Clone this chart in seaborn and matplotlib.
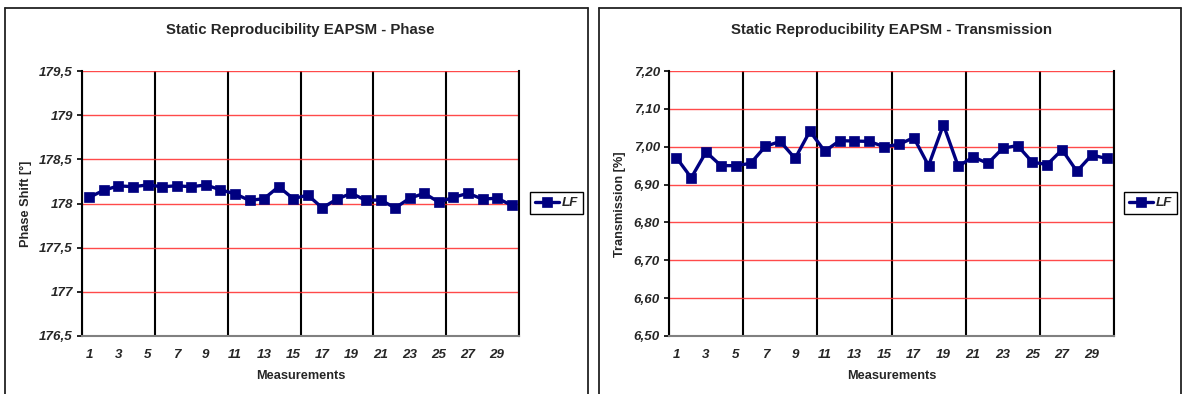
import numpy as np
import pandas as pd
import matplotlib
matplotlib.use("Agg")
import matplotlib.pyplot as plt
from matplotlib.lines import Line2D
from matplotlib.ticker import FuncFormatter
import seaborn as sns

# ---- data ----
measurements = list(range(1, 31))
phase = [178.07, 178.15, 178.20, 178.19, 178.21, 178.19, 178.20, 178.19, 178.21, 178.155,
         178.11, 178.035, 178.055, 178.19, 178.055, 178.095, 177.95, 178.05, 178.115, 178.035,
         178.04, 177.95, 178.06, 178.115, 178.015, 178.07, 178.115, 178.05, 178.06, 177.98]
transmission = [6.971, 6.918, 6.986, 6.950, 6.950, 6.956, 7.001, 7.014, 6.969, 7.041,
                6.988, 7.016, 7.015, 7.014, 7.000, 7.006, 7.024, 6.950, 7.058, 6.948,
                6.973, 6.956, 6.996, 7.003, 6.959, 6.953, 6.992, 6.935, 6.978, 6.969]
series_name = "LF"
titles = ["Static Reproducibility EAPSM - Phase", "Static Reproducibility EAPSM - Transmission"]
ylabels = ["Phase Shift [°]", "Transmission [%]"]
xlabel = "Measurements"
phase_ticks = [176.5, 177, 177.5, 178, 178.5, 179, 179.5]
trans_ticks = [6.50, 6.60, 6.70, 6.80, 6.90, 7.00, 7.10, 7.20]
xtick_labels = list(range(1, 31, 2))

sns.set_style("white")
plt.rcParams["font.family"] = ["Liberation Sans", "DejaVu Sans"]

W, H = 1182, 394
fig = plt.figure(figsize=(W / 100, H / 100), dpi=100)

def fx(px):
    return px / W

def fy(py):
    return 1 - py / H

navy = "#000080"

# panel frames
for x0, x1 in [(5, 588), (599, 1181)]:
    for xs, ys in [([x0, x0], [7.5, 400]), ([x1, x1], [7.5, 400]), ([x0, x1], [7.5, 7.5])]:
        fig.add_artist(Line2D([fx(v) for v in xs], [fy(v) for v in ys],
                              transform=fig.transFigure, color="#222222", lw=1.3))

axes_px = [(82, 519), (669, 1114)]
legend_px = [530, 1124]
ylab_x = [26, 620]
datasets = [phase, transmission]
ticksets = [phase_ticks, trans_ticks]
fmts = [lambda v, p: f"{v:g}".replace(".", ","), lambda v, p: f"{v:.2f}".replace(".", ",")]

for i in range(2):
    l, r = axes_px[i]
    ax = fig.add_axes([fx(l), fy(336), fx(r - l), (336 - 71) / H])
    df = pd.DataFrame({"Measurement": measurements, "Value": datasets[i],
                       "Series": [series_name] * len(measurements)})
    sns.lineplot(data=df, x="Measurement", y="Value", hue="Series", palette=[navy],
                 marker="s", markersize=7, markeredgecolor=navy, markeredgewidth=0.5,
                 linewidth=2.4, ax=ax, zorder=5)
    ax.set_xlim(0.5, 30.5)
    ticks = ticksets[i]
    ax.set_ylim(ticks[0], ticks[-1])
    ax.set_yticks(ticks)
    ax.yaxis.set_major_formatter(FuncFormatter(fmts[i]))
    ax.set_xticks(xtick_labels)
    ax.set_xticklabels([str(v) for v in xtick_labels])
    ax.set_xticks(np.arange(0.5, 31, 5), minor=True)
    ax.tick_params(axis="x", which="major", length=0, pad=9)
    ax.tick_params(axis="x", which="minor", length=3, width=1, color="#808080", direction="out")
    ax.tick_params(axis="y", which="major", length=3.5, width=1.2, color="black",
                   direction="out", left=True, pad=3)
    for lab in ax.get_xticklabels() + ax.get_yticklabels():
        lab.set_fontsize(9.6)
        lab.set_fontweight("bold")
        lab.set_fontstyle("italic")
    ax.grid(False)
    ax.grid(True, which="major", axis="y", color="#ff2a2a", lw=1.0, alpha=0.85)
    ax.grid(True, which="minor", axis="x", color="black", lw=1.5)
    ax.set_axisbelow(True)
    ax.spines["top"].set_visible(False)
    ax.spines["left"].set_color("black")
    ax.spines["left"].set_linewidth(1.5)
    ax.spines["right"].set_color("black")
    ax.spines["right"].set_linewidth(1.5)
    ax.spines["bottom"].set_color("#808080")
    ax.spines["bottom"].set_linewidth(1.5)
    ax.set_xlabel("")
    ax.set_ylabel("")
    fig.text(fx((l + r) / 2), fy(30), titles[i], ha="center", va="center",
             fontsize=10.8, fontweight="bold")
    fig.text(fx((l + r) / 2), fy(376), xlabel, ha="center", va="center",
             fontsize=9.2, fontweight="bold")
    fig.text(fx(ylab_x[i]), fy(204), ylabels[i], ha="center", va="center",
             rotation=90, fontsize=9.2, fontweight="bold")
    handles, labels = ax.get_legend_handles_labels()
    leg = ax.legend(handles, labels, loc="center left",
                    bbox_to_anchor=(fx(legend_px[i]), fy(203)), bbox_transform=fig.transFigure,
                    frameon=True, fancybox=False, framealpha=1, edgecolor="black",
                    handlelength=1.8, handletextpad=0.25, borderpad=0.35, borderaxespad=0,
                    prop={"size": 9.6, "weight": "bold", "style": "italic"})
    leg.get_frame().set_linewidth(1.0)

fig.savefig("out.png", dpi=100)
